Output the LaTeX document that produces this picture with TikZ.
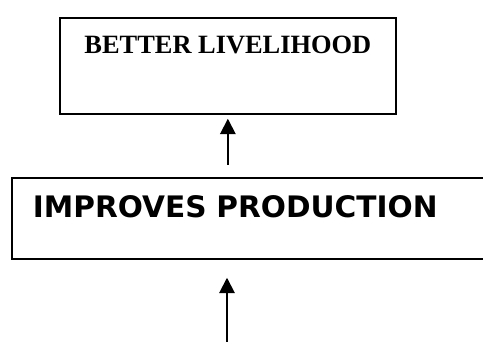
\documentclass[tikz,border=0pt]{standalone}
\usepackage{fontspec}
\setmainfont{Liberation Serif}
\newfontfamily\boxsans{DejaVu Sans}
\usetikzlibrary{arrows.meta,positioning}

\begin{document}
\begin{tikzpicture}[x=0.75pt,y=-0.75pt,
box/.style={draw,line width=1.3pt,inner sep=0pt,anchor=north west},
arr/.style={-{Triangle[length=11.5pt,width=11.5pt]},line width=1.4pt}]
\useasboundingbox (0,0) rectangle (483,342);
% two stacked boxes, the lower one runs off the right edge
\node[box,minimum width=252pt,text height=27pt,text depth=45pt,
  font=\bfseries\fontsize{19.8}{24}\selectfont] (live) at (59,17) {BETTER LIVELIHOOD};
\node[box,text width=335pt,inner xsep=15.75pt,text height=29.5pt,text depth=31.25pt,
  align=left,font=\boxsans\bfseries\fontsize{22.2}{26}\selectfont] (prod) at (11,177) {IMPROVES PRODUCTION};
\coordinate (base) at (227,350);
\draw[arr,shorten <=9pt,shorten >=3pt] (live.south |- prod.north) -- (live.south);
\draw[arr,shorten >=13.5pt] (base) -- (base |- prod.south);
\end{tikzpicture}
\end{document}
